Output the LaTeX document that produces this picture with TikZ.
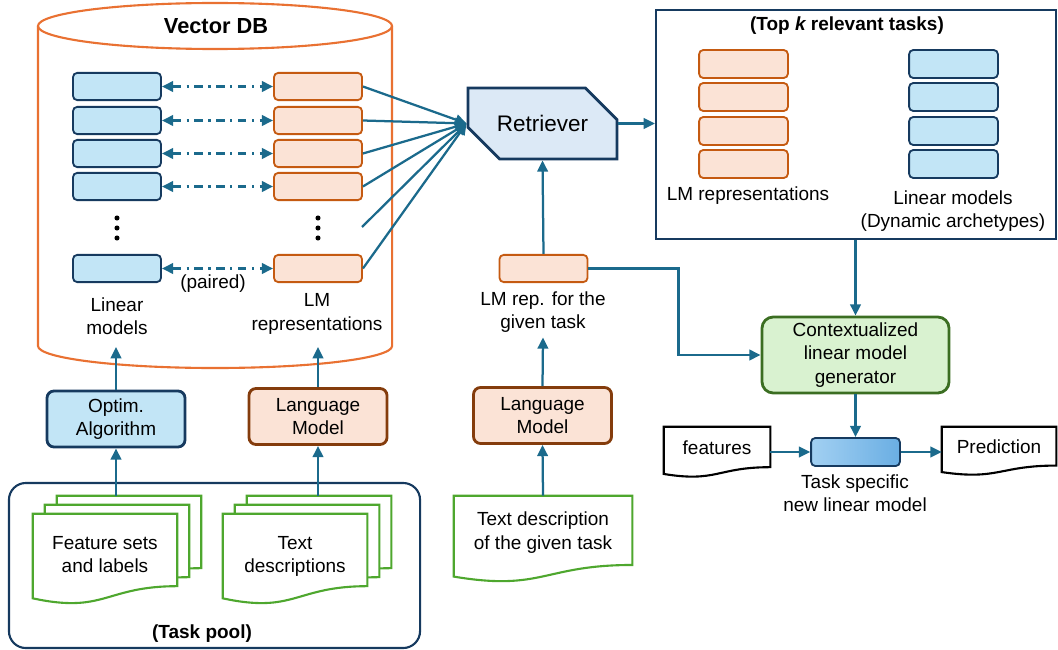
\documentclass[tikz,border=0pt]{standalone}
\usepackage{fontspec}
\setmainfont{Liberation Sans}
\usetikzlibrary{arrows.meta,positioning,calc,shapes.misc}
\pgfdeclarelayer{background}
\pgfsetlayers{background,main}
\definecolor{flowblue}{HTML}{1B6A8C}
\definecolor{navy}{HTML}{163A5F}
\definecolor{linfill}{HTML}{C2E5F6}
\definecolor{lmrfill}{HTML}{FBE3D6}
\definecolor{lmrline}{HTML}{C55A11}
\definecolor{dborange}{HTML}{E97132}
\definecolor{lmbrown}{HTML}{843C0C}
\definecolor{retfill}{HTML}{DCE9F6}
\definecolor{genfill}{HTML}{D9F2D0}
\definecolor{genline}{HTML}{3B6E22}
\definecolor{docgreen}{HTML}{4EA72E}
\definecolor{taskleft}{HTML}{A2D0F2}
\definecolor{taskright}{HTML}{6AAEE3}
\newcommand{\lbl}{\fontsize{13.5}{16.5}\selectfont}
\newcommand{\ttl}{\fontsize{13.5}{16.5}\selectfont\bfseries}
% document outline (wavy bottom) round a node
\newcommand{\docpath}[2]{%
  \draw[#1] let \p1=(#2.north west), \p2=(#2.south east) in
    (\p1) -- (\x2,\y1) -- (\x2,{\y1+0.8*(\y2-\y1)})
    .. controls ({0.5*(\x1+\x2)},{\y1+0.8*(\y2-\y1)}) and ({0.5*(\x1+\x2)},{\y1+1.107*(\y2-\y1)}) .. (\x1,{\y1+0.934*(\y2-\y1)}) -- cycle;}
\tikzset{
    flow/.style={draw=flowblue, line width=1.6pt, -{Triangle[length=8pt,width=7.5pt]}},
    paired/.style={draw=flowblue, line width=1.6pt,
        dash pattern=on 6pt off 4pt on 1.5pt off 4pt,
        {Triangle[length=8pt,width=7.5pt]}-{Triangle[length=8pt,width=7.5pt]}},
    linbox/.style={rectangle, rounded corners=3pt, draw=navy, fill=linfill,
        line width=1.3pt, minimum width=2.2cm, minimum height=0.68cm},
    lmrbox/.style={rectangle, rounded corners=3pt, draw=lmrline, fill=lmrfill,
        line width=1.3pt, minimum width=2.2cm, minimum height=0.68cm},
    modelbox/.style={rectangle, rounded corners=5pt, line width=2pt,
        minimum width=3.45cm, minimum height=1.4cm, align=center, font=\lbl},
    txt/.style={align=center, font=\lbl},
    docnode/.style={rectangle, align=center, font=\lbl, inner sep=0pt},
    docline/.style={draw=docgreen, line width=1.5pt, fill=white},
    blackdoc/.style={draw=black, line width=1.5pt, fill=white}
}
\begin{document}
\begin{tikzpicture}[x=0.025cm, y=-0.025cm]
    \useasboundingbox (0,0) rectangle (1058,650);

    % vector database
    \draw[draw=dborange, line width=1.5pt, fill=white] (38,26) -- (38,346)
        arc[start angle=180, end angle=360, x radius=4.425cm, y radius=0.55cm] -- (392,26);
    \draw[draw=dborange, line width=1.5pt] (215,26) ellipse [x radius=4.425cm, y radius=0.575cm];
    \node (dbtitle) [font=\fontsize{15.5}{18}\selectfont\bfseries] at (216,26) {Vector DB};

    \foreach \i/\y in {1/86.5,2/120.5,3/153.5,4/186.5,5/268.5} {
        \node (lin\i) [linbox] at (117,\y) {};
        \node (lmr\i) [lmrbox] at (318,\y) {};
        \draw[paired] (lin\i.east) -- (lmr\i.west);
    }
    \foreach \y in {218,228,238} {
        \fill (117,\y) circle (1.8pt);
        \fill (318,\y) circle (1.8pt);
    }
    \coordinate (lmrgap) at (362,227);
    \node (paired) [txt] at (213,284) {(paired)};
    \node (linlbl) [txt] at (117,316) {Linear\\models};
    \node (lmrlbl) [txt] at (317,314) {LM\\representations};

    % retriever
    \node (retr) [chamfered rectangle, chamfered rectangle corners={north east,south west},
        chamfered rectangle xsep=0.47cm, chamfered rectangle ysep=0.47cm,
        draw=navy, fill=retfill, line width=2pt, minimum width=3.725cm, minimum height=1.775cm,
        font=\fontsize{16}{19}\selectfont] at (542.5,123.5) {Retriever};
    \foreach \i in {1,2,3,4,5} {
        \draw[flow] (lmr\i.east) -- (retr.west);
    }
    \draw[flow] (lmrgap) -- (retr.west);

    % top k relevant tasks
    \node (topk) [draw=navy, line width=1.5pt, minimum width=10cm, minimum height=5.725cm, inner sep=0pt] at (856,124.5) {};
    \node (topktitle) [font=\ttl] at (847,26) {(Top {\itshape k} relevant tasks)};
    \foreach \i/\y in {1/64,2/97,3/131,4/164} {
        \node (tlmr\i) [lmrbox, minimum width=2.22cm, minimum height=0.7cm] at (743.5,\y) {};
        \node (tlin\i) [linbox, minimum width=2.22cm, minimum height=0.7cm] at (953.5,\y) {};
    }
    \node (tlmrlbl) [txt] at (748,196) {LM representations};
    \node (tlinlbl) [txt] at (953,211) {Linear models\\(Dynamic archetypes)};
    \draw[flow] (retr.east) -- (retr.east -| topk.west);

    % given task
    \node (lmrep) [lmrbox] at (543.5,268.5) {};
    \node (lmreplbl) [txt] at (543,312) {LM rep. for the\\given task};
    \node (lm2) [modelbox, draw=lmbrown, fill=lmrfill] at (542.5,415.5) {Language\\Model};
    \node (given) [docnode, minimum width=4.45cm, minimum height=2.15cm, text depth=12pt] at (543,539) {Text description\\of the given task};
    \draw[flow] (lmrep.north) -- (retr.south);
    \draw[flow] (lm2.north) -- (lmreplbl.south);
    \draw[flow] (given.north) -- (lm2.south);

    % generator and prediction
    \node (gen) [rectangle, rounded corners=8pt, draw=genline, fill=genfill, line width=2pt,
        minimum width=4.675cm, minimum height=1.9cm, align=center, font=\lbl] at (855.5,355) {Contextualized\\linear model\\generator};
    \node (task) [rectangle, rounded corners=3pt, draw=navy, line width=1.3pt,
        left color=taskleft, right color=taskright,
        minimum width=2.22cm, minimum height=0.7cm] at (855.5,452) {};
    \node (tasklbl) [txt] at (855,493) {Task specific\\new linear model};
    \node (feat) [docnode, minimum width=2.65cm, minimum height=1.25cm, text depth=6pt] at (717,452) {features};
    \node (pred) [docnode, minimum width=2.85cm, minimum height=1.2cm, text depth=6pt] at (999,451) {Prediction};
    \draw[flow] (lmrep.east) -- ++(90,0) |- (gen.west);
    \draw[flow] (gen.north |- topk.south) -- (gen.north);
    \draw[flow] (gen.south) -- (task.north);
    \draw[flow] (task.west -| feat.east) -- (task.west);
    \draw[flow] (task.east) -- (task.east -| pred.west);

    % task pool
    \node (pool) [draw=navy, line width=1.5pt, rounded corners=12pt, minimum width=10.275cm,
        minimum height=4.125cm] at (214.5,565.5) {};
    \node (pooltitle) [font=\ttl] at (202,634) {(Task pool)};
    \node (fsb2) [docnode, minimum width=3.6cm, minimum height=2.25cm] at (129,541) {};
    \node (fsb1) [docnode, minimum width=3.6cm, minimum height=2.25cm] at (117,550) {};
    \node (fs) [docnode, minimum width=3.6cm, minimum height=2.25cm, text depth=6pt] at (105,559) {Feature sets\\and labels};
    \node (tdb2) [docnode, minimum width=3.6cm, minimum height=2.25cm] at (319,541) {};
    \node (tdb1) [docnode, minimum width=3.6cm, minimum height=2.25cm] at (307,550) {};
    \node (td) [docnode, minimum width=3.6cm, minimum height=2.25cm, text depth=6pt] at (295,559) {Text\\descriptions};
    \node (optim) [modelbox, draw=navy, fill=linfill] at (116,419) {Optim.\\Algorithm};
    \node (lm1) [modelbox, draw=lmbrown, fill=lmrfill] at (318,416.5) {Language\\Model};
    \draw[flow] (optim |- fsb2.north) -- (optim.south);
    \draw[flow] (lm1 |- tdb2.north) -- (lm1.south);
    \draw[flow] (optim.north) -- (116,347);
    \draw[flow] (lm1.north) -- (318,347);

    \begin{pgfonlayer}{background}
        \docpath{docline}{fsb2}
        \docpath{docline}{fsb1}
        \docpath{docline}{fs}
        \docpath{docline}{tdb2}
        \docpath{docline}{tdb1}
        \docpath{docline}{td}
        \docpath{docline}{given}
        \docpath{blackdoc}{feat}
        \docpath{blackdoc}{pred}
    \end{pgfonlayer}
\end{tikzpicture}
\end{document}
